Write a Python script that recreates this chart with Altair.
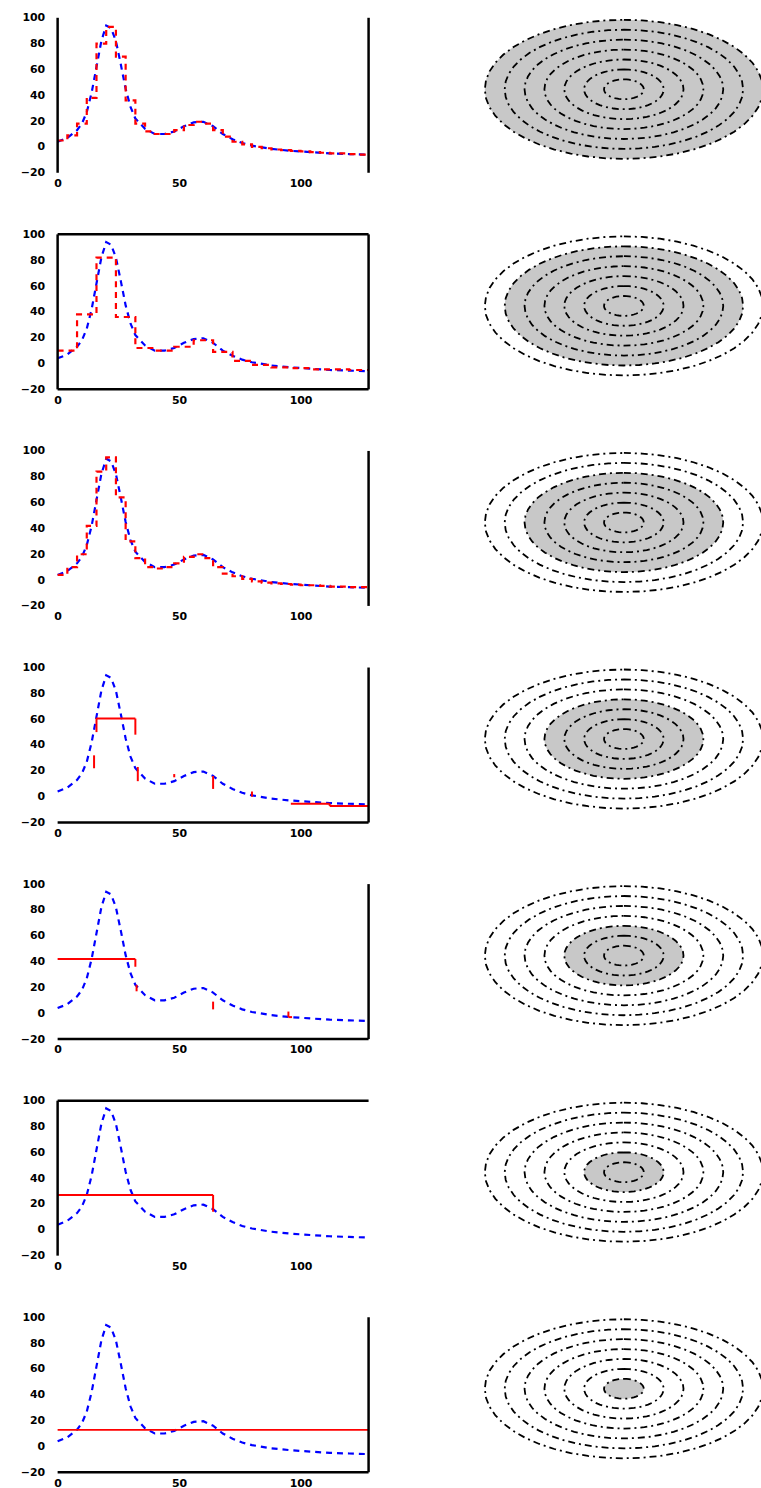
import altair as alt
import numpy as np
import pandas as pd

# ---------------- data ----------------
# original signal (blue dashed curve)
blue_x = [0, 4, 8, 10, 12, 14, 16, 18, 20, 22, 24, 26, 28, 30, 32, 36, 40, 44, 48,
          52, 56, 60, 64, 68, 72, 76, 80, 88, 96, 104, 112, 120, 128]
blue_y = [4, 7, 13, 18, 27, 42, 62, 82, 94, 92, 82, 64, 45, 31, 22, 14, 10, 10, 12,
          16, 19, 19.5, 16, 10, 6, 3, 1, -1.5, -3, -4, -5, -5.5, -6]

# step approximations (red), rows 1-3: one value per interval
red_row1 = [5, 9, 18, 38, 80, 93, 70, 36, 18, 12, 10, 10, 13, 17, 19.5, 18,
            13, 8, 4, 2, 0, -1, -2, -2.5, -3, -3.5, -4, -4.5, -5, -5, -5.5, -6]
red_row2 = [10, 38, 82, 36, 12, 10, 13, 18, 9, 2, -1, -3, -3.5, -4.5, -4.5, -5]
red_row3 = [4, 10, 20, 42, 84, 95, 64, 30, 17, 10, 9, 10, 13, 18, 20, 17,
            10, 5, 3, 1, -1, -2, -2.5, -3, -3.5, -4, -4, -4.5, -5, -5, -5.5, -5.5]

# rows 4-7: visible red pieces (horizontal: start, end, value; vertical: x, from, to)
row4_h = [(16, 32, 60.5), (96, 112, -5.4), (112, 128, -7.2)]
row4_v = [(15, 22, 32), (16, 50, 61), (32, 48, 60.5), (33, 12, 23), (48, 15, 17.5),
          (64, 6, 16), (80, 0, 4), (112, -7.2, -5.4)]
row5_h = [(0, 32, 42), (95, 96.5, -3)]
row5_v = [(32, 36, 42), (32.5, 17, 22), (64, 3, 9), (95, -3, 1.3)]
row6_h = [(0, 64, 27)]
row6_v = [(64, 14, 27)]
row7_h = [(0, 128, 12.8)]
row7_v = []

x_ticks = [0, 50, 100]
y_ticks = [-20, 0, 20, 40, 60, 80, 100]

# concentric rings (right column): half widths / half heights
ring_rx = [20, 40, 60, 80, 100, 120, 140]
ring_ry = [10, 20, 30, 40, 50, 60, 70]
gray_ring = [7, 6, 5, 4, 3, 2, 1]   # which ring is filled, per row

frames = [
    ["left", "right"],
    ["left", "right", "top", "bottom"],
    ["right"],
    ["right", "bottom"],
    ["right", "bottom"],
    ["left", "top"],
    ["right", "bottom"],
]

# ---------------- layout / style ----------------
W, H = 313, 156
RW = 288
FONT = "DejaVu Sans"

xs = alt.Scale(domain=[0, 128], nice=False, zero=False)
ys = alt.Scale(domain=[-20, 100], nice=False, zero=False)
x_axis = alt.Axis(values=x_ticks, domain=False, ticks=False, grid=False, labelPadding=5,
                  labelFontSize=11, labelFontWeight="bold", labelColor="black",
                  labelFont=FONT, title=None, labelFlush=False)
y_axis = alt.Axis(values=y_ticks, domain=False, ticks=False, grid=False, labelPadding=13,
                  labelFontSize=11, labelFontWeight="bold", labelColor="black",
                  labelFont=FONT, title=None)

DASH = [6, 5]
one = alt.Data(values=[{"a": 1}])


def step_df(vals):
    w = 128 / len(vals)
    xv = [i * w for i in range(len(vals))] + [128]
    yv = list(vals) + [vals[-1]]
    return pd.DataFrame({"x": xv, "y": yv})


def frame_layers(sides):
    out = []
    for s in sides:
        if s == "left":
            enc = dict(x=alt.value(0), y=alt.value(0), y2=alt.value(H))
        elif s == "right":
            enc = dict(x=alt.value(W), y=alt.value(0), y2=alt.value(H))
        elif s == "top":
            enc = dict(x=alt.value(0), x2=alt.value(W), y=alt.value(0))
        else:
            enc = dict(x=alt.value(0), x2=alt.value(W), y=alt.value(H))
        out.append(alt.Chart(one).mark_rule(color="black", strokeWidth=2.5).encode(**enc))
    return out


blue_df = pd.DataFrame({"x": blue_x, "y": blue_y})


def left_panel(i):
    blue = alt.Chart(blue_df).mark_line(color="#0000ff", strokeWidth=2.2, strokeDash=DASH).encode(
        x=alt.X("x:Q", scale=xs, axis=x_axis),
        y=alt.Y("y:Q", scale=ys, axis=y_axis),
    )
    if i < 3:
        vals = [red_row1, red_row2, red_row3][i]
        red = alt.Chart(step_df(vals)).mark_line(
            color="#ff0000", strokeWidth=2.2, interpolate="step-after", strokeDash=DASH
        ).encode(
            x=alt.X("x:Q", scale=xs, axis=x_axis),
            y=alt.Y("y:Q", scale=ys, axis=y_axis),
        )
        layers = [blue, red]
    else:
        hs = [row4_h, row5_h, row6_h, row7_h][i - 3]
        vs = [row4_v, row5_v, row6_v, row7_v][i - 3]
        hdf = pd.DataFrame(hs, columns=["x0", "x1", "v"])
        layers = [blue]
        layers.append(alt.Chart(hdf).mark_rule(color="#ff0000", strokeWidth=2).encode(
            x=alt.X("x0:Q", scale=xs, axis=x_axis), x2="x1:Q",
            y=alt.Y("v:Q", scale=ys, axis=y_axis)))
        if vs:
            vdf = pd.DataFrame(vs, columns=["x", "y0", "y1"])
            layers.append(alt.Chart(vdf).mark_rule(color="#ff0000", strokeWidth=2).encode(
                x=alt.X("x:Q", scale=xs, axis=x_axis),
                y=alt.Y("y0:Q", scale=ys, axis=y_axis), y2="y1:Q"))
    layers += frame_layers(frames[i])
    return alt.layer(*layers).properties(width=W, height=H)


rxs = alt.Scale(domain=[-150, 138], nice=False, zero=False)
rys = alt.Scale(domain=[-84, 72], nice=False, zero=False)

# ring outlines (geometry from radii)
ring_rows = []
theta = np.linspace(0, 2 * np.pi, 49)
for k, (a, b) in enumerate(zip(ring_rx, ring_ry)):
    for j, t in enumerate(theta):
        ring_rows.append({"ring": k + 1, "o": j, "x": a * np.sin(t), "y": b * np.cos(t)})
ring_df = pd.DataFrame(ring_rows)


def right_panel(i):
    k = gray_ring[i]
    a, b = ring_rx[k - 1], ring_ry[k - 1]
    t = np.linspace(-np.pi / 2, np.pi / 2, 41)
    fill_df = pd.DataFrame({"x": a * np.sin(t), "y": b * np.cos(t), "y2": -b * np.cos(t)})
    fill = alt.Chart(fill_df).mark_area(color="#c8c8c8", clip=True).encode(
        x=alt.X("x:Q", scale=rxs, axis=None),
        y=alt.Y("y:Q", scale=rys, axis=None), y2="y2:Q")
    rings = alt.Chart(ring_df).mark_line(color="black", strokeWidth=1.8,
                                         strokeDash=[7, 4, 2, 4], clip=True).encode(
        x=alt.X("x:Q", scale=rxs, axis=None),
        y=alt.Y("y:Q", scale=rys, axis=None),
        detail="ring:N", order="o:Q")
    return alt.layer(fill, rings).properties(width=RW, height=H)


panels = []
for i in range(7):
    panels.append(left_panel(i))
    panels.append(right_panel(i))

chart = alt.concat(*panels, columns=2, spacing=alt.RowColnumber(row=62, column=107),
                   bounds="flush").properties(
    padding={"left": 20, "top": 7, "right": 0, "bottom": 0}
).configure_view(stroke=None)

chart.save("out.html", embed_options={"renderer": "svg", "actions": False})
